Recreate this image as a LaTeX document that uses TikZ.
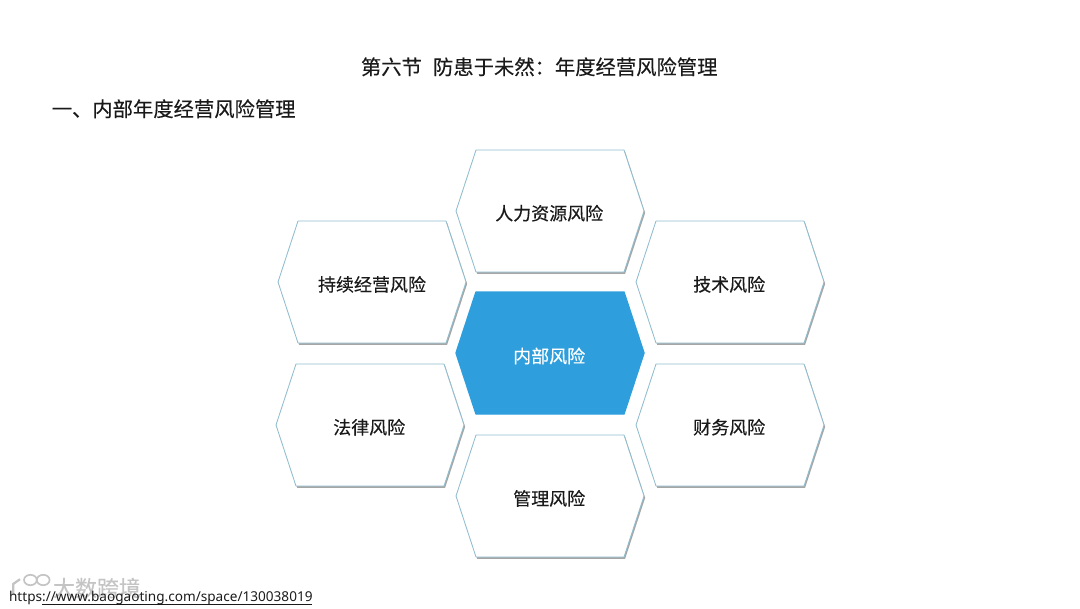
\documentclass[tikz,border=0pt]{standalone}
\usepackage{fontspec}
\setmainfont{Noto Sans}
\newfontfamily\cjk[FakeBold=0.25]{Noto Sans CJK SC}
\usepackage{tikz}
\usetikzlibrary{
    calc,
    shadows
}

\definecolor{cellblue}{HTML}{2E9FDC}
\definecolor{celledge}{HTML}{8FBDCE}
\definecolor{inkgray}{HTML}{1A1A1A}
\definecolor{markgray}{HTML}{C4C4C4}

\tikzset{
    cellshape/.style={draw=celledge, line width=0.6pt, fill=white, line join=round,
        drop shadow={shadow xshift=0.8pt, shadow yshift=-1.3pt, opacity=0.7, fill=gray}},
    keyshape/.style={fill=cellblue, line join=round, draw=cellblue, line width=1pt},
    celltext/.style={font=\cjk\fontsize{12.8pt}{15pt}\selectfont, text=inkgray},
    keytext/.style={font=\cjk\fontsize{12.8pt}{15pt}\selectfont, text=white},
    headtext/.style={font=\cjk\fontsize{14.45pt}{17pt}\selectfont, text=inkgray},
    marktext/.style={font=\cjk\fontsize{15.6pt}{17pt}\selectfont, text=markgray}
}

% style of outline, center
\newcommand{\hexcell}[2]{
    \draw[#1] ($(#2)+(-2.35,0)$) -- ($(#2)+(-1.85,1.525)$) -- ($(#2)+(1.85,1.525)$)
        -- ($(#2)+(2.35,0)$) -- ($(#2)+(1.85,-1.525)$) -- ($(#2)+(-1.85,-1.525)$) -- cycle;
}

\begin{document}
\begin{tikzpicture}[scale=1]

\useasboundingbox (0,0) rectangle (27,15.2);

% Headings
\node[headtext] (title) at (13.48,13.53) {第六节\hspace{0.55em}防患于未然：年度经营风险管理};
\node[headtext, anchor=west] (subtitle) at (1.17,12.48) {一、内部年度经营风险管理};

% Cell centers
\coordinate (ctop) at (13.75,9.925);
\coordinate (cleftup) at (9.3,8.15);
\coordinate (crightup) at (18.25,8.15);
\coordinate (cmid) at (13.75,6.375);
\coordinate (cleftlow) at (9.25,4.575);
\coordinate (crightlow) at (18.25,4.575);
\coordinate (cbottom) at (13.75,2.8);

% Cells
\hexcell{cellshape}{ctop}
\hexcell{cellshape}{cleftup}
\hexcell{cellshape}{crightup}
\hexcell{cellshape}{cleftlow}
\hexcell{cellshape}{crightlow}
\hexcell{cellshape}{cbottom}
\hexcell{keyshape}{cmid}

% Cell labels
\node[celltext] (humanrisk) at (13.73,9.87) {人力资源风险};
\node[celltext] (sustainrisk) at (9.3,8.09) {持续经营风险};
\node[celltext] (techrisk) at (18.23,8.09) {技术风险};
\node[keytext] (innerrisk) at (13.73,6.3) {内部风险};
\node[celltext] (lawrisk) at (9.23,4.52) {法律风险};
\node[celltext] (financerisk) at (18.23,4.52) {财务风险};
\node[celltext] (managerisk) at (13.73,2.74) {管理风险};

% Watermark
\node[marktext, anchor=west, inner xsep=0pt] (marktitle) at (1.32,0.5) {大数跨境};
\draw[markgray, line width=1.6pt] (0.33,0.32) -- (0.33,0.6) -- (0.5,0.72);
\draw[markgray, line width=1.2pt] (0.76,0.7) ellipse (0.16 and 0.13);
\draw[markgray, line width=1.2pt] (1.08,0.7) ellipse (0.16 and 0.13);

% Source link
\node[font=\fontsize{9.67pt}{12pt}\selectfont, text=inkgray, anchor=west, inner xsep=0pt] (sourcelink) at (0.22,0.25) {https://www.baogaoting.com/space/130038019};
\draw[inkgray, line width=0.5pt] (1.05,0.1) -- (7.8,0.1);

\end{tikzpicture}
\end{document}
